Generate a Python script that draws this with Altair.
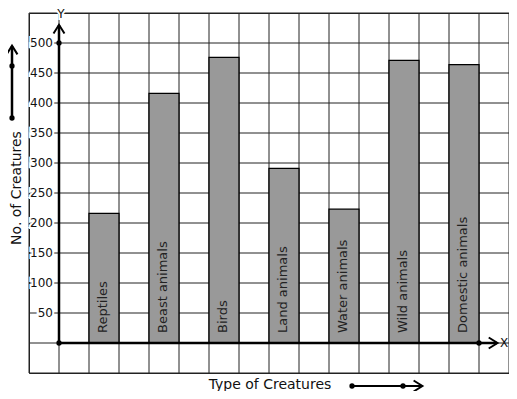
import altair as alt
import pandas as pd

# ---- data ----
categories = ["Reptiles", "Beast animals", "Birds", "Land animals",
              "Water animals", "Wild animals", "Domestic animals"]
values = [216, 416, 476, 291, 223, 471, 464]
bar_start = [1, 3, 5, 7, 9, 11, 13]          # grid column where each bar starts
tick_values = [50, 100, 150, 200, 250, 300, 350, 400, 450, 500]
grid_x = list(range(-1, 16))
grid_y = list(range(-50, 551, 50))

FONT = "DejaVu Sans"
INK = "#111111"

bars_df = pd.DataFrame({
    "cat": categories,
    "val": values,
    "x0": bar_start,
    "x1": [s + 1 for s in bar_start],
    "xm": [s + 0.5 for s in bar_start],
    "zero": [0] * len(categories),
})
ticks_df = pd.DataFrame({"v": tick_values, "lab": [str(v) for v in tick_values],
                         "zero": [0] * len(tick_values)})

xs = alt.Scale(domain=[-1, 15], nice=False, zero=False)
ys = alt.Scale(domain=[-50, 550], nice=False, zero=False)

# grid
vgrid = alt.Chart(pd.DataFrame({"gx": grid_x})).mark_rule(color="#222222", strokeWidth=1).encode(
    x=alt.X("gx:Q", scale=xs, axis=None))
hgrid = alt.Chart(pd.DataFrame({"gy": grid_y})).mark_rule(color="#222222", strokeWidth=1).encode(
    y=alt.Y("gy:Q", scale=ys, axis=None))

bars = alt.Chart(bars_df).mark_bar(
    color="#999999", stroke="#000000", strokeWidth=1.3
).encode(
    x=alt.X("x0:Q", scale=xs, axis=None),
    x2="x1:Q",
    y=alt.Y("val:Q", scale=ys, axis=None),
    y2="zero:Q",
)

bar_labels = alt.Chart(bars_df).mark_text(
    angle=270, align="left", baseline="middle", dx=10, dy=-1,
    font=FONT, fontSize=13, color="#222222"
).encode(
    x=alt.X("xm:Q", scale=xs, axis=None),
    y=alt.Y("zero:Q", scale=ys, axis=None),
    text="cat:N",
)

# thick axes
axes_df = pd.DataFrame({"x": [0, 0], "x2": [0, 14.6], "y": [0, 0], "y2": [530, 0]})
axes = alt.Chart(axes_df).mark_rule(color="#000000", strokeWidth=2.5).encode(
    x=alt.X("x:Q", scale=xs, axis=None), x2="x2:Q",
    y=alt.Y("y:Q", scale=ys, axis=None), y2="y2:Q",
)

dots_df = pd.DataFrame({"x": [0, 0, 14], "y": [500, 0, 0]})
dots = alt.Chart(dots_df).mark_circle(color="#000000", size=28, opacity=1).encode(
    x=alt.X("x:Q", scale=xs, axis=None), y=alt.Y("y:Q", scale=ys, axis=None)
)

up_shape = "M-1,0.8L0,-0.8L1,0.8"
right_shape = "M-0.8,-1L0.8,0L-0.8,1"
chev_up = alt.Chart(pd.DataFrame({"x": [0], "y": [523]})).mark_point(
    shape=up_shape, size=120, filled=False, stroke="#000000", strokeWidth=2, opacity=1
).encode(x=alt.X("x:Q", scale=xs, axis=None), y=alt.Y("y:Q", scale=ys, axis=None))
chev_right = alt.Chart(pd.DataFrame({"x": [14.47], "y": [0]})).mark_point(
    shape=right_shape, size=120, filled=False, stroke="#000000", strokeWidth=2, opacity=1
).encode(x=alt.X("x:Q", scale=xs, axis=None), y=alt.Y("y:Q", scale=ys, axis=None))

# y tick labels with a white halo (breaks grid lines like the original)
tick_halo = alt.Chart(ticks_df).mark_text(
    align="right", baseline="middle", dx=-6, font=FONT, fontSize=12,
    color="white", stroke="white", strokeWidth=4
).encode(x=alt.X("zero:Q", scale=xs, axis=None), y=alt.Y("v:Q", scale=ys, axis=None),
         text="lab:N")
tick_text = alt.Chart(ticks_df).mark_text(
    align="right", baseline="middle", dx=-6, font=FONT, fontSize=12, color=INK
).encode(x=alt.X("zero:Q", scale=xs, axis=None), y=alt.Y("v:Q", scale=ys, axis=None),
         text="lab:N")

# X / Y letters
x_letter = alt.Chart(pd.DataFrame({"t": ["X"]})).mark_text(
    font=FONT, fontSize=12, color=INK, align="center", baseline="middle").encode(
    text="t:N", x=alt.value(475), y=alt.value(330))
y_halo = alt.Chart(pd.DataFrame({"t": ["Y"]})).mark_text(
    font=FONT, fontSize=12, color="white", stroke="white", strokeWidth=4,
    align="center", baseline="middle").encode(text="t:N", x=alt.value(32), y=alt.value(1))
y_letter = alt.Chart(pd.DataFrame({"t": ["Y"]})).mark_text(
    font=FONT, fontSize=12, color=INK, align="center", baseline="middle").encode(
    text="t:N", x=alt.value(32), y=alt.value(1))

# axis titles
x_title = alt.Chart(pd.DataFrame({"t": ["Type of Creatures"]})).mark_text(
    font=FONT, fontSize=14, color=INK, align="center", baseline="middle").encode(
    text="t:N", x=alt.value(241), y=alt.value(372))
y_title = alt.Chart(pd.DataFrame({"t": ["No. of Creatures"]})).mark_text(
    font=FONT, fontSize=14, color=INK, align="center", baseline="middle", angle=270).encode(
    text="t:N", x=alt.value(-12), y=alt.value(175))

# decorative arrows beside the titles
one = pd.DataFrame({"a": [1]})
left_line = alt.Chart(one).mark_rule(color="#000000", strokeWidth=2.5).encode(
    x=alt.value(-17), y=alt.value(105), y2=alt.value(33))
left_dots = alt.Chart(pd.DataFrame({"py": [105, 53]})).mark_circle(
    color="#000000", size=28, opacity=1).encode(
    x=alt.value(-17), y=alt.Y("py:Q", scale=None, axis=None))
left_chev = alt.Chart(one).mark_point(
    shape=up_shape, size=120, filled=False, stroke="#000000", strokeWidth=2, opacity=1
).encode(x=alt.value(-17), y=alt.value(37))

bot_line = alt.Chart(one).mark_rule(color="#000000", strokeWidth=2).encode(
    x=alt.value(323), x2=alt.value(393), y=alt.value(373))
bot_dots = alt.Chart(pd.DataFrame({"px": [323, 374]})).mark_circle(
    color="#000000", size=28, opacity=1).encode(
    x=alt.X("px:Q", scale=None, axis=None), y=alt.value(373))
bot_chev = alt.Chart(one).mark_point(
    shape=right_shape, size=120, filled=False, stroke="#000000", strokeWidth=2, opacity=1
).encode(x=alt.value(389), y=alt.value(373))

chart = alt.layer(
    vgrid, hgrid, bars, bar_labels, axes, dots, chev_up, chev_right, tick_halo, tick_text,
    x_letter, y_halo, y_letter, x_title, y_title,
    left_line, left_dots, left_chev, bot_line, bot_dots, bot_chev
).properties(
    width=480, height=360,
    autosize=alt.AutoSizeParams(type="none"),
    padding={"left": 21, "top": 5, "right": 0, "bottom": 18},
    background="white",
).configure_view(stroke="#222222", strokeWidth=1)

chart.save("out.html", embed_options={"renderer": "svg", "actions": False})
